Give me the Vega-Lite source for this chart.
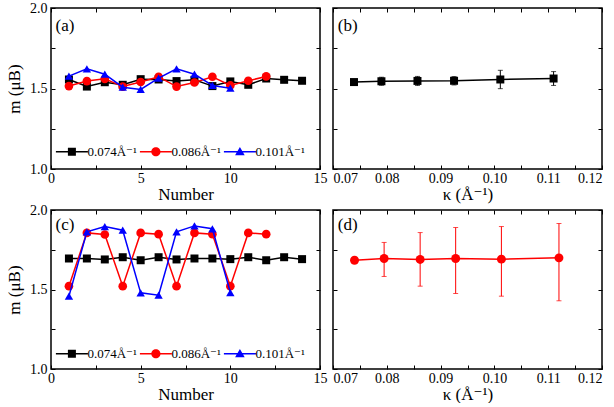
{
  "$schema": "https://vega.github.io/schema/vega-lite/v6.json",
  "padding": {"left": 4, "top": 0, "right": 4, "bottom": 0},
  "background": "white",
  "config": {
    "font": "'Liberation Serif', 'Times New Roman', 'DejaVu Serif', serif",
    "view": {"stroke": "black", "strokeWidth": 1.5},
    "axis": {
      "domain": false, "tickColor": "black", "tickWidth": 1,
      "tickSize": 4, "offset": -4, "labelPadding": 2, "labelColor": "black", "labelFontSize": 14,
      "titleFontSize": 17, "titleFontWeight": "normal", "titleColor": "black", "grid": false, "labelFlush": false, "labelOverlap": false
    },
    "axisY": {"labelPadding": 4},
    "legend": {"labelFontSize": 13, "labelColor": "black"}
  },
  "datasets": {
    "A": [
      {"n": 1, "m": 1.556, "k": "0.074Å⁻¹"}, {"n": 2, "m": 1.512, "k": "0.074Å⁻¹"}, {"n": 3, "m": 1.539, "k": "0.074Å⁻¹"},
      {"n": 4, "m": 1.523, "k": "0.074Å⁻¹"}, {"n": 5, "m": 1.558, "k": "0.074Å⁻¹"}, {"n": 6, "m": 1.556, "k": "0.074Å⁻¹"},
      {"n": 7, "m": 1.546, "k": "0.074Å⁻¹"}, {"n": 8, "m": 1.554, "k": "0.074Å⁻¹"}, {"n": 9, "m": 1.515, "k": "0.074Å⁻¹"},
      {"n": 10, "m": 1.544, "k": "0.074Å⁻¹"}, {"n": 11, "m": 1.523, "k": "0.074Å⁻¹"}, {"n": 12, "m": 1.562, "k": "0.074Å⁻¹"},
      {"n": 13, "m": 1.554, "k": "0.074Å⁻¹"}, {"n": 14, "m": 1.548, "k": "0.074Å⁻¹"},
      {"n": 1, "m": 1.515, "k": "0.086Å⁻¹"}, {"n": 2, "m": 1.546, "k": "0.086Å⁻¹"}, {"n": 3, "m": 1.560, "k": "0.086Å⁻¹"},
      {"n": 4, "m": 1.512, "k": "0.086Å⁻¹"}, {"n": 5, "m": 1.540, "k": "0.086Å⁻¹"}, {"n": 6, "m": 1.573, "k": "0.086Å⁻¹"},
      {"n": 7, "m": 1.512, "k": "0.086Å⁻¹"}, {"n": 8, "m": 1.537, "k": "0.086Å⁻¹"}, {"n": 9, "m": 1.573, "k": "0.086Å⁻¹"},
      {"n": 10, "m": 1.519, "k": "0.086Å⁻¹"}, {"n": 11, "m": 1.548, "k": "0.086Å⁻¹"}, {"n": 12, "m": 1.575, "k": "0.086Å⁻¹"},
      {"n": 1, "m": 1.577, "k": "0.101Å⁻¹"}, {"n": 2, "m": 1.622, "k": "0.101Å⁻¹"}, {"n": 3, "m": 1.589, "k": "0.101Å⁻¹"},
      {"n": 4, "m": 1.508, "k": "0.101Å⁻¹"}, {"n": 5, "m": 1.494, "k": "0.101Å⁻¹"}, {"n": 6, "m": 1.564, "k": "0.101Å⁻¹"},
      {"n": 7, "m": 1.622, "k": "0.101Å⁻¹"}, {"n": 8, "m": 1.589, "k": "0.101Å⁻¹"}, {"n": 9, "m": 1.519, "k": "0.101Å⁻¹"},
      {"n": 10, "m": 1.502, "k": "0.101Å⁻¹"}
    ],
    "C": [
      {"n": 1, "m": 1.695, "k": "0.074Å⁻¹"}, {"n": 2, "m": 1.695, "k": "0.074Å⁻¹"}, {"n": 3, "m": 1.689, "k": "0.074Å⁻¹"},
      {"n": 4, "m": 1.703, "k": "0.074Å⁻¹"}, {"n": 5, "m": 1.684, "k": "0.074Å⁻¹"}, {"n": 6, "m": 1.703, "k": "0.074Å⁻¹"},
      {"n": 7, "m": 1.689, "k": "0.074Å⁻¹"}, {"n": 8, "m": 1.695, "k": "0.074Å⁻¹"}, {"n": 9, "m": 1.695, "k": "0.074Å⁻¹"},
      {"n": 10, "m": 1.691, "k": "0.074Å⁻¹"}, {"n": 11, "m": 1.703, "k": "0.074Å⁻¹"}, {"n": 12, "m": 1.684, "k": "0.074Å⁻¹"},
      {"n": 13, "m": 1.703, "k": "0.074Å⁻¹"}, {"n": 14, "m": 1.691, "k": "0.074Å⁻¹"},
      {"n": 1, "m": 1.521, "k": "0.086Å⁻¹"}, {"n": 2, "m": 1.856, "k": "0.086Å⁻¹"}, {"n": 3, "m": 1.846, "k": "0.086Å⁻¹"},
      {"n": 4, "m": 1.521, "k": "0.086Å⁻¹"}, {"n": 5, "m": 1.856, "k": "0.086Å⁻¹"}, {"n": 6, "m": 1.848, "k": "0.086Å⁻¹"},
      {"n": 7, "m": 1.521, "k": "0.086Å⁻¹"}, {"n": 8, "m": 1.856, "k": "0.086Å⁻¹"}, {"n": 9, "m": 1.848, "k": "0.086Å⁻¹"},
      {"n": 10, "m": 1.521, "k": "0.086Å⁻¹"}, {"n": 11, "m": 1.856, "k": "0.086Å⁻¹"}, {"n": 12, "m": 1.848, "k": "0.086Å⁻¹"},
      {"n": 1, "m": 1.458, "k": "0.101Å⁻¹"}, {"n": 2, "m": 1.863, "k": "0.101Å⁻¹"}, {"n": 3, "m": 1.896, "k": "0.101Å⁻¹"},
      {"n": 4, "m": 1.873, "k": "0.101Å⁻¹"}, {"n": 5, "m": 1.479, "k": "0.101Å⁻¹"}, {"n": 6, "m": 1.464, "k": "0.101Å⁻¹"},
      {"n": 7, "m": 1.863, "k": "0.101Å⁻¹"}, {"n": 8, "m": 1.900, "k": "0.101Å⁻¹"}, {"n": 9, "m": 1.882, "k": "0.101Å⁻¹"},
      {"n": 10, "m": 1.481, "k": "0.101Å⁻¹"}
    ],
    "B": [
      {"kappa": 0.0739, "m": 1.540, "lo": 1.532, "hi": 1.548},
      {"kappa": 0.0790, "m": 1.545, "lo": 1.520, "hi": 1.570},
      {"kappa": 0.0857, "m": 1.547, "lo": 1.519, "hi": 1.575},
      {"kappa": 0.0925, "m": 1.548, "lo": 1.522, "hi": 1.574},
      {"kappa": 0.1011, "m": 1.556, "lo": 1.499, "hi": 1.613},
      {"kappa": 0.1110, "m": 1.562, "lo": 1.519, "hi": 1.605}
    ],
    "D": [
      {"kappa": 0.0740, "m": 1.684, "lo": 1.678, "hi": 1.690},
      {"kappa": 0.0795, "m": 1.695, "lo": 1.582, "hi": 1.796},
      {"kappa": 0.0862, "m": 1.689, "lo": 1.521, "hi": 1.858},
      {"kappa": 0.0928, "m": 1.695, "lo": 1.475, "hi": 1.890},
      {"kappa": 0.1013, "m": 1.691, "lo": 1.458, "hi": 1.896},
      {"kappa": 0.1120, "m": 1.699, "lo": 1.429, "hi": 1.915}
    ]
  },
  "columns": 2,
  "bounds": "flush",
  "spacing": {"row": 41, "column": 13},
  "resolve": {"scale": {"color": "independent", "shape": "independent"}},
  "concat": [
    {
      "width": 269, "height": 161,
      "data": {"name": "A"},
      "resolve": {"axis": {"x": "independent", "y": "independent"}},
      "layer": [
        {
          "transform": [{"filter": "datum.k === '0.074Å⁻¹'"}],
          "mark": {"type": "line", "strokeWidth": 1.5, "color": "#000000"},
          "encoding": {
            "x": {"field": "n", "type": "quantitative", "scale": {"domain": [0, 15], "nice": false},
                  "axis": {"orient": "bottom", "title": "Number", "values": [0, 2.5, 5, 7.5, 10, 12.5, 15], "labelExpr": "datum.value % 5 === 0 ? datum.label : ''", "titlePadding": 1}},
            "y": {"field": "m", "type": "quantitative", "scale": {"domain": [1, 2], "nice": false, "zero": false},
                  "axis": {"orient": "left", "title": "m (μB)", "values": [1, 1.25, 1.5, 1.75, 2], "labelExpr": "(datum.value * 4) % 2 === 0 ? format(datum.value, '.1f') : ''", "titlePadding": 6}}
          }
        },
        {
          "transform": [{"filter": "datum.k === '0.074Å⁻¹'"}],
          "mark": {"type": "point", "filled": true, "size": 64, "shape": "square", "color": "#000000", "opacity": 1},
          "encoding": {
            "x": {"field": "n", "type": "quantitative", "axis": {"orient": "top", "labels": false, "title": null, "values": [0, 2.5, 5, 7.5, 10, 12.5, 15]}},
            "y": {"field": "m", "type": "quantitative", "axis": {"orient": "right", "labels": false, "title": null, "values": [1, 1.25, 1.5, 1.75, 2]}}
          }
        },
        {
          "transform": [{"filter": "datum.k === '0.086Å⁻¹'"}],
          "mark": {"type": "line", "strokeWidth": 1.5, "color": "#ff0000"},
          "encoding": {"x": {"field": "n", "type": "quantitative", "axis": null}, "y": {"field": "m", "type": "quantitative", "axis": null}}
        },
        {
          "transform": [{"filter": "datum.k === '0.086Å⁻¹'"}],
          "mark": {"type": "point", "filled": true, "size": 75, "shape": "circle", "color": "#ff0000", "opacity": 1},
          "encoding": {"x": {"field": "n", "type": "quantitative", "axis": null}, "y": {"field": "m", "type": "quantitative", "axis": null}}
        },
        {
          "transform": [{"filter": "datum.k === '0.101Å⁻¹'"}],
          "mark": {"type": "line", "strokeWidth": 1.5, "color": "#0000ff"},
          "encoding": {"x": {"field": "n", "type": "quantitative", "axis": null}, "y": {"field": "m", "type": "quantitative", "axis": null}}
        },
        {
          "transform": [{"filter": "datum.k === '0.101Å⁻¹'"}],
          "mark": {"type": "point", "filled": true, "size": 70, "shape": "triangle-up", "color": "#0000ff", "opacity": 1},
          "encoding": {"x": {"field": "n", "type": "quantitative", "axis": null}, "y": {"field": "m", "type": "quantitative", "axis": null}}
        },
        {
          "mark": {"type": "point", "filled": true, "size": 64, "opacity": 0},
          "encoding": {
            "x": {"field": "n", "type": "quantitative", "axis": null},
            "y": {"field": "m", "type": "quantitative", "axis": null},
            "color": {"field": "k", "type": "nominal", "scale": {"domain": ["0.074Å⁻¹", "0.086Å⁻¹", "0.101Å⁻¹"], "range": ["#000000", "#ff0000", "#0000ff"]},
                      "legend": {"orient": "none", "legendX": 14.4, "legendY": 137, "direction": "horizontal", "title": null, "symbolSize": 64, "symbolOpacity": 1, "symbolStrokeWidth": 0, "labelOffset": 9, "columnPadding": 2, "padding": 0}},
            "shape": {"field": "k", "type": "nominal", "scale": {"domain": ["0.074Å⁻¹", "0.086Å⁻¹", "0.101Å⁻¹"], "range": ["M-4,-0.19H4V0.19H-4Z M-1,-1H1V1H-1Z", "M-4,-0.19H4V0.19H-4Z M1.15,0A1.15,1.15,0,1,1,-1.15,0A1.15,1.15,0,1,1,1.15,0Z", "M-4,-0.19H4V0.19H-4Z M0,-1.2L1.2,0.9H-1.2Z"]},
                      "legend": {"orient": "none", "legendX": 14.4, "legendY": 137, "direction": "horizontal", "title": null, "symbolSize": 64, "symbolOpacity": 1, "symbolStrokeWidth": 0, "labelOffset": 9, "columnPadding": 2, "padding": 0}}
          }
        },
        {
          "data": {"values": [{"lab": "(a)"}]},
          "mark": {"type": "text", "align": "left", "baseline": "middle", "fontSize": 17, "color": "black"},
          "encoding": {"x": {"datum": 0.25, "type": "quantitative", "axis": null}, "y": {"datum": 1.89, "type": "quantitative", "axis": null}, "text": {"field": "lab"}}
        }
      ]
    },
    {
      "width": 269, "height": 161,
      "data": {"name": "B"},
      "resolve": {"axis": {"x": "independent", "y": "independent"}},
      "layer": [
        {
          "mark": {"type": "line", "strokeWidth": 1.5, "color": "black"},
          "encoding": {
            "x": {"field": "kappa", "type": "quantitative", "scale": {"domain": [0.07, 0.12], "nice": false, "zero": false},
                  "axis": {"orient": "bottom", "title": "κ (Å⁻¹)", "values": [0.07, 0.075, 0.08, 0.085, 0.09, 0.095, 0.1, 0.105, 0.11, 0.115, 0.12], "labelExpr": "round(datum.value * 1000) % 10 === 0 ? format(datum.value, '.2f') : ''", "labelFlush": true, "titlePadding": 1}},
            "y": {"field": "m", "type": "quantitative", "scale": {"domain": [1, 2], "nice": false, "zero": false},
                  "axis": {"orient": "left", "labels": false, "title": null, "values": [1, 1.25, 1.5, 1.75, 2]}}
          }
        },
        {
          "mark": {"type": "errorbar", "ticks": true, "color": "black"},
          "encoding": {
            "x": {"field": "kappa", "type": "quantitative", "axis": null},
            "y": {"field": "lo", "type": "quantitative", "axis": null},
            "y2": {"field": "hi"}
          }
        },
        {
          "mark": {"type": "point", "filled": true, "size": 64, "opacity": 1, "shape": "square", "color": "black"},
          "encoding": {
            "x": {"field": "kappa", "type": "quantitative", "axis": {"orient": "top", "labels": false, "title": null, "values": [0.07, 0.075, 0.08, 0.085, 0.09, 0.095, 0.1, 0.105, 0.11, 0.115, 0.12]}},
            "y": {"field": "m", "type": "quantitative", "axis": {"orient": "right", "labels": false, "title": null, "values": [1, 1.25, 1.5, 1.75, 2]}}
          }
        },
        {
          "data": {"values": [{"lab": "(b)"}]},
          "mark": {"type": "text", "align": "left", "baseline": "middle", "fontSize": 17, "color": "black"},
          "encoding": {"x": {"datum": 0.0709, "type": "quantitative", "axis": null}, "y": {"datum": 1.89, "type": "quantitative", "axis": null}, "text": {"field": "lab"}}
        }
      ]
    },
    {
      "width": 269, "height": 159,
      "data": {"name": "C"},
      "resolve": {"axis": {"x": "independent", "y": "independent"}},
      "layer": [
        {
          "transform": [{"filter": "datum.k === '0.074Å⁻¹'"}],
          "mark": {"type": "line", "strokeWidth": 1.5, "color": "#000000"},
          "encoding": {
            "x": {"field": "n", "type": "quantitative", "scale": {"domain": [0, 15], "nice": false},
                  "axis": {"orient": "bottom", "title": "Number", "values": [0, 2.5, 5, 7.5, 10, 12.5, 15], "labelExpr": "datum.value % 5 === 0 ? datum.label : ''", "titlePadding": 1}},
            "y": {"field": "m", "type": "quantitative", "scale": {"domain": [1, 2], "nice": false, "zero": false},
                  "axis": {"orient": "left", "title": "m (μB)", "values": [1, 1.25, 1.5, 1.75, 2], "labelExpr": "(datum.value * 4) % 2 === 0 ? format(datum.value, '.1f') : ''", "titlePadding": 6}}
          }
        },
        {
          "transform": [{"filter": "datum.k === '0.074Å⁻¹'"}],
          "mark": {"type": "point", "filled": true, "size": 64, "shape": "square", "color": "#000000", "opacity": 1},
          "encoding": {
            "x": {"field": "n", "type": "quantitative", "axis": {"orient": "top", "labels": false, "title": null, "values": [0, 2.5, 5, 7.5, 10, 12.5, 15]}},
            "y": {"field": "m", "type": "quantitative", "axis": {"orient": "right", "labels": false, "title": null, "values": [1, 1.25, 1.5, 1.75, 2]}}
          }
        },
        {
          "transform": [{"filter": "datum.k === '0.086Å⁻¹'"}],
          "mark": {"type": "line", "strokeWidth": 1.5, "color": "#ff0000"},
          "encoding": {"x": {"field": "n", "type": "quantitative", "axis": null}, "y": {"field": "m", "type": "quantitative", "axis": null}}
        },
        {
          "transform": [{"filter": "datum.k === '0.086Å⁻¹'"}],
          "mark": {"type": "point", "filled": true, "size": 75, "shape": "circle", "color": "#ff0000", "opacity": 1},
          "encoding": {"x": {"field": "n", "type": "quantitative", "axis": null}, "y": {"field": "m", "type": "quantitative", "axis": null}}
        },
        {
          "transform": [{"filter": "datum.k === '0.101Å⁻¹'"}],
          "mark": {"type": "line", "strokeWidth": 1.5, "color": "#0000ff"},
          "encoding": {"x": {"field": "n", "type": "quantitative", "axis": null}, "y": {"field": "m", "type": "quantitative", "axis": null}}
        },
        {
          "transform": [{"filter": "datum.k === '0.101Å⁻¹'"}],
          "mark": {"type": "point", "filled": true, "size": 70, "shape": "triangle-up", "color": "#0000ff", "opacity": 1},
          "encoding": {"x": {"field": "n", "type": "quantitative", "axis": null}, "y": {"field": "m", "type": "quantitative", "axis": null}}
        },
        {
          "mark": {"type": "point", "filled": true, "size": 64, "opacity": 0},
          "encoding": {
            "x": {"field": "n", "type": "quantitative", "axis": null},
            "y": {"field": "m", "type": "quantitative", "axis": null},
            "color": {"field": "k", "type": "nominal", "scale": {"domain": ["0.074Å⁻¹", "0.086Å⁻¹", "0.101Å⁻¹"], "range": ["#000000", "#ff0000", "#0000ff"]},
                      "legend": {"orient": "none", "legendX": 14.4, "legendY": 137, "direction": "horizontal", "title": null, "symbolSize": 64, "symbolOpacity": 1, "symbolStrokeWidth": 0, "labelOffset": 9, "columnPadding": 2, "padding": 0}},
            "shape": {"field": "k", "type": "nominal", "scale": {"domain": ["0.074Å⁻¹", "0.086Å⁻¹", "0.101Å⁻¹"], "range": ["M-4,-0.19H4V0.19H-4Z M-1,-1H1V1H-1Z", "M-4,-0.19H4V0.19H-4Z M1.15,0A1.15,1.15,0,1,1,-1.15,0A1.15,1.15,0,1,1,1.15,0Z", "M-4,-0.19H4V0.19H-4Z M0,-1.2L1.2,0.9H-1.2Z"]},
                      "legend": {"orient": "none", "legendX": 14.4, "legendY": 137, "direction": "horizontal", "title": null, "symbolSize": 64, "symbolOpacity": 1, "symbolStrokeWidth": 0, "labelOffset": 9, "columnPadding": 2, "padding": 0}}
          }
        },
        {
          "data": {"values": [{"lab": "(c)"}]},
          "mark": {"type": "text", "align": "left", "baseline": "middle", "fontSize": 17, "color": "black"},
          "encoding": {"x": {"datum": 0.25, "type": "quantitative", "axis": null}, "y": {"datum": 1.905, "type": "quantitative", "axis": null}, "text": {"field": "lab"}}
        }
      ]
    },
    {
      "width": 269, "height": 159,
      "data": {"name": "D"},
      "resolve": {"axis": {"x": "independent", "y": "independent"}},
      "layer": [
        {
          "mark": {"type": "line", "strokeWidth": 1.5, "color": "#ff0000"},
          "encoding": {
            "x": {"field": "kappa", "type": "quantitative", "scale": {"domain": [0.07, 0.12], "nice": false, "zero": false},
                  "axis": {"orient": "bottom", "title": "κ (Å⁻¹)", "values": [0.07, 0.075, 0.08, 0.085, 0.09, 0.095, 0.1, 0.105, 0.11, 0.115, 0.12], "labelExpr": "round(datum.value * 1000) % 10 === 0 ? format(datum.value, '.2f') : ''", "labelFlush": true, "titlePadding": 1}},
            "y": {"field": "m", "type": "quantitative", "scale": {"domain": [1, 2], "nice": false, "zero": false},
                  "axis": {"orient": "left", "labels": false, "title": null, "values": [1, 1.25, 1.5, 1.75, 2]}}
          }
        },
        {
          "mark": {"type": "errorbar", "ticks": true, "color": "#ff0000"},
          "encoding": {
            "x": {"field": "kappa", "type": "quantitative", "axis": null},
            "y": {"field": "lo", "type": "quantitative", "axis": null},
            "y2": {"field": "hi"}
          }
        },
        {
          "mark": {"type": "point", "filled": true, "size": 80, "opacity": 1, "shape": "circle", "color": "#ff0000"},
          "encoding": {
            "x": {"field": "kappa", "type": "quantitative", "axis": {"orient": "top", "labels": false, "title": null, "values": [0.07, 0.075, 0.08, 0.085, 0.09, 0.095, 0.1, 0.105, 0.11, 0.115, 0.12]}},
            "y": {"field": "m", "type": "quantitative", "axis": {"orient": "right", "labels": false, "title": null, "values": [1, 1.25, 1.5, 1.75, 2]}}
          }
        },
        {
          "data": {"values": [{"lab": "(d)"}]},
          "mark": {"type": "text", "align": "left", "baseline": "middle", "fontSize": 17, "color": "black"},
          "encoding": {"x": {"datum": 0.0709, "type": "quantitative", "axis": null}, "y": {"datum": 1.905, "type": "quantitative", "axis": null}, "text": {"field": "lab"}}
        }
      ]
    }
  ]
}
